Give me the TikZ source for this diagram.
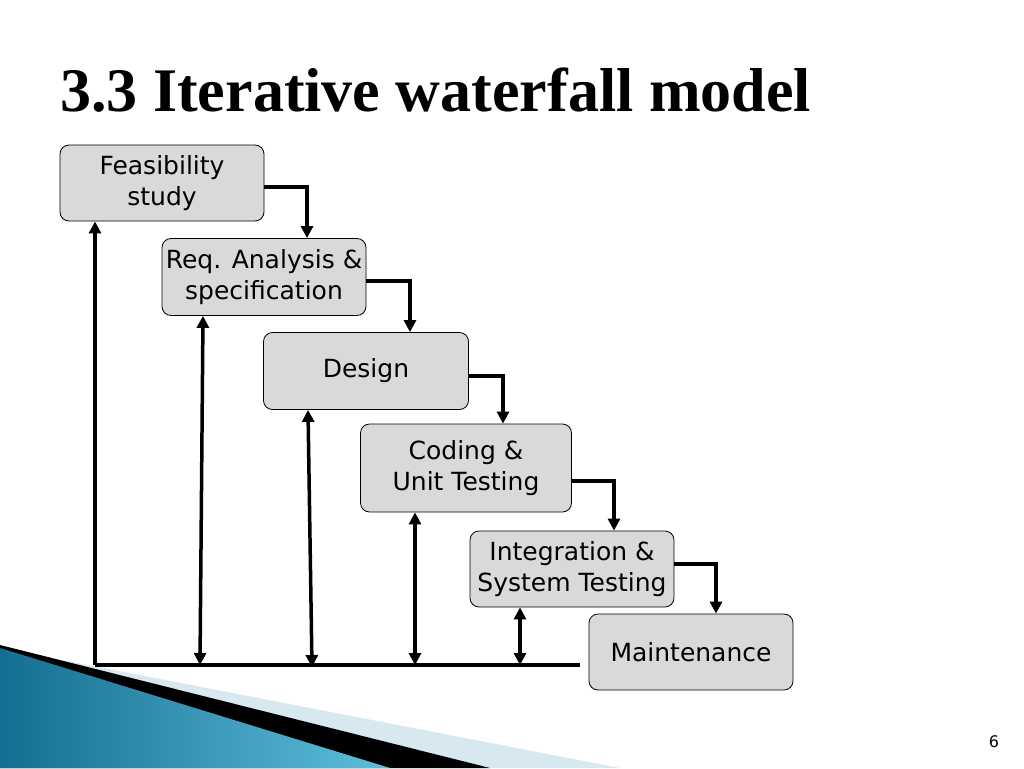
\documentclass[tikz,border=0pt]{standalone}
\usepackage{fontspec}
\setmainfont{DejaVu Sans}
\newfontfamily\titlefont{Liberation Serif}
\usetikzlibrary{arrows.meta}
\definecolor{bluedark}{RGB}{20,110,145}
\definecolor{bluelight}{RGB}{95,190,220}
\definecolor{paleblue}{RGB}{215,232,240}
\begin{document}
\begin{tikzpicture}[x=1pt,y=-1pt,
  stage/.style={draw=black,line width=0.8pt,fill=gray!30,rounded corners=9pt,align=center,font=\fontsize{25}{31}\selectfont,inner sep=0pt},
  flow/.style={line width=3.5pt,-{Triangle[length=12pt,width=12pt]}},
  both/.style={line width=3.5pt,{Triangle[length=12pt,width=12pt]}-{Triangle[length=12pt,width=12pt]}}]
\useasboundingbox (0,0) rectangle (1024,768);
\fill[paleblue] (0,648) -- (620,768) -- (0,768) -- cycle;
\fill[black] (0,645) -- (490,768) -- (0,768) -- cycle;
\shade[left color=bluedark,right color=bluelight] (0,648) -- (390,768) -- (0,768) -- cycle;
\node[font=\titlefont\bfseries\fontsize{62}{66}\selectfont,anchor=west,inner sep=0pt] (title) at (60,90) {3.3 Iterative waterfall model};
\node[stage,minimum width=204pt,minimum height=76pt] (fs) at (162,183) {Feasibility\\study};
\node[stage,minimum width=204pt,minimum height=77pt] (ra) at (264,277) {Req. Analysis \&\\specification};
\node[stage,minimum width=205pt,minimum height=77pt] (de) at (366,371) {Design};
\node[stage,minimum width=211pt,minimum height=88pt] (co) at (466,468) {Coding \&\\Unit Testing};
\node[stage,minimum width=204pt,minimum height=76pt] (it) at (572,569) {Integration \&\\System Testing};
\node[stage,minimum width=204pt,minimum height=76pt] (ma) at (691,652) {Maintenance};
\draw[flow] (fs.east |- 0,187) -| (ra.north -| 307,0);
\draw[flow] (ra.east |- 0,281) -| (de.north -| 410,0);
\draw[flow] (de.east |- 0,376) -| (co.north -| 503,0);
\draw[flow] (co.east |- 0,481) -| (it.north -| 614,0);
\draw[flow] (it.east |- 0,564) -| (ma.north -| 716,0);
\coordinate (bl) at (95,665);
\coordinate (br) at (580,665);
\draw[line width=3.5pt] (bl) -- (br);
\draw[line width=3.5pt,-{Triangle[length=12pt,width=12pt]}] (bl) -- (fs.south -| bl);
\draw[both] (200,665) -- (ra.south -| 203,0);
\draw[both] (312,667) -- (de.south -| 308,0);
\draw[both] (415,665) -- (co.south -| 415,0);
\draw[both] (520,665) -- (it.south -| 520,0);
\node[font=\fontsize{16}{18}\selectfont] (pg) at (994,742) {6};
\end{tikzpicture}
\end{document}
